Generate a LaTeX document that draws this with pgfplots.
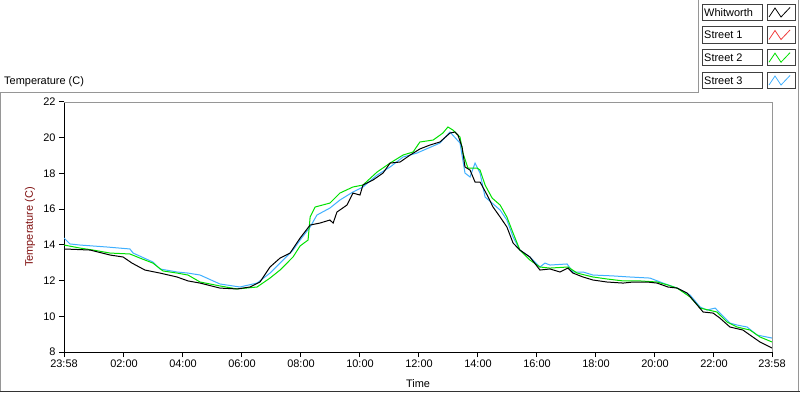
\documentclass[border=0pt]{standalone}
\usepackage{fontspec}
\setmainfont{Liberation Sans}
\usepackage{pgfplots}
\usepackage{pgfplotstable}
\pgfplotsset{compat=1.18}
\definecolor{cyanl}{RGB}{64,176,255}
\definecolor{greenl}{RGB}{0,225,0}
\definecolor{redl}{RGB}{240,60,60}
\definecolor{ylab}{RGB}{128,16,16}
\definecolor{frameg}{RGB}{150,150,150}

\pgfplotstableread{
h T
-0.03 13.77
0.85 13.71
1.53 13.43
1.97 13.32
2.27 12.98
2.71 12.59
3.22 12.42
3.80 12.20
4.17 11.98
4.58 11.86
5.25 11.58
5.83 11.53
6.27 11.64
6.61 11.92
6.95 12.76
7.29 13.26
7.63 13.54
7.97 14.38
8.31 15.11
8.64 15.22
8.98 15.39
9.09 15.22
9.22 15.84
9.56 16.23
9.76 16.90
10.00 16.79
10.10 17.35
10.44 17.63
10.78 18.02
11.02 18.58
11.36 18.64
11.70 19.03
12.03 19.37
12.37 19.59
12.71 19.76
13.05 20.26
13.22 20.32
13.32 20.15
13.46 19.48
13.56 18.36
13.73 18.19
13.90 17.52
14.07 17.52
14.31 16.79
14.51 16.12
14.75 15.56
14.98 15.00
15.19 14.10
15.42 13.71
15.76 13.32
16.10 12.59
16.44 12.65
16.78 12.48
17.05 12.70
17.22 12.42
17.56 12.20
17.90 12.03
18.37 11.92
18.92 11.86
19.26 11.92
19.73 11.92
20.07 11.86
20.44 11.64
20.75 11.58
21.09 11.30
21.29 10.91
21.63 10.24
21.97 10.18
22.20 9.90
22.54 9.40
22.98 9.23
23.22 8.95
23.56 8.56
23.97 8.22
}\whitworth

\pgfplotstableread{
h T
-0.03 13.99
0.51 13.82
0.95 13.71
1.53 13.54
2.20 13.49
2.54 13.26
2.98 12.98
3.32 12.54
3.80 12.42
4.17 12.31
4.58 11.92
5.25 11.70
5.83 11.53
6.51 11.64
6.95 12.14
7.29 12.59
7.73 13.32
7.97 13.94
8.24 14.27
8.31 15.56
8.48 16.12
8.98 16.34
9.32 16.90
9.76 17.24
10.10 17.35
10.58 18.08
11.02 18.58
11.46 19.03
11.80 19.20
12.03 19.76
12.48 19.87
12.81 20.26
12.98 20.60
13.15 20.43
13.39 20.04
13.49 19.14
13.66 18.30
13.97 18.30
14.07 18.19
14.24 17.35
14.48 16.62
14.75 16.23
14.98 15.56
15.19 14.66
15.42 13.71
15.76 13.15
16.10 12.76
16.44 12.70
17.05 12.76
17.36 12.42
17.90 12.20
18.37 12.09
18.92 11.98
19.49 11.98
20.07 11.92
20.44 11.75
20.75 11.58
21.19 11.08
21.53 10.46
22.10 10.24
22.44 9.68
22.78 9.40
23.22 9.23
23.56 8.84
23.97 8.56
}\streettwo

\pgfplotstableread{
h T
-0.03 14.38
0.17 14.05
0.51 13.99
1.42 13.88
2.20 13.77
2.31 13.54
2.98 13.04
3.22 12.65
3.80 12.48
4.17 12.42
4.58 12.31
5.25 11.81
5.93 11.64
6.51 11.86
6.95 12.42
7.29 12.98
7.73 13.71
7.97 14.27
8.31 15.00
8.54 15.67
8.98 16.06
9.32 16.51
9.76 16.96
10.10 17.24
10.58 17.91
11.02 18.36
11.46 18.92
11.93 19.14
12.71 19.70
13.05 20.32
13.39 19.70
13.56 18.02
13.73 17.80
13.90 18.58
14.07 18.02
14.24 16.68
14.75 15.95
14.98 15.39
15.19 14.44
15.42 13.71
15.76 13.32
16.10 12.76
16.27 12.98
16.44 12.87
17.02 12.93
17.22 12.48
17.56 12.48
17.90 12.31
18.58 12.26
19.15 12.20
19.83 12.14
20.27 11.86
20.75 11.58
21.19 11.19
21.53 10.52
21.76 10.35
22.04 10.46
22.20 10.18
22.54 9.62
22.78 9.51
23.12 9.40
23.46 8.95
23.97 8.78
}\streetthree

\begin{document}
\begin{tikzpicture}[x=1bp,y=1bp,font=\fontsize{11}{13}\selectfont]
\useasboundingbox (0,0) rectangle (800,392);
\fill[white] (0,0) rectangle (800,392);
% outer frame
\draw[frameg,line width=1bp] (0.5,1) -- (0.5,299.5) -- (698,299.5) -- (698,392);
\draw[frameg,line width=1bp] (798,392) -- (798,1);
\draw[black!80,line width=1bp] (0,1) -- (800,1);
\node[anchor=west,inner sep=0pt] at (4,310) {Temperature (C)};

\begin{axis}[
  at={(64bp,40bp)}, anchor=south west, scale only axis,
  width=708bp, height=250bp,
  xmin=-0.0333, xmax=23.9667, ymin=8, ymax=22,
  axis x line*=bottom, axis y line*=left,
  axis line style={-,black,line width=1bp},
  xtick={-0.0333,2,4,6,8,10,12,14,16,18,20,22,23.9667},
  xticklabels={23:58,02:00,04:00,06:00,08:00,10:00,12:00,14:00,16:00,18:00,20:00,22:00,23:58},
  ytick={8,10,12,14,16,18,20,22},
  minor x tick num=7,
  tick align=outside,
  major tick length=5bp, minor tick length=3bp,
  every tick/.style={black,line width=1bp},
  /pgf/number format/assume math mode=true,
  xticklabel style={yshift=1bp},
  xlabel={Time},
  xlabel style={at={(axis description cs:0.5,0)},anchor=center,yshift=-32bp},
  ylabel={Temperature (C)},
  ylabel style={at={(axis description cs:-0.048,0.5)},anchor=center,text=ylab},
  clip=true,
]
\addplot[cyanl,line width=1bp] table[x=h,y=T]{\streetthree};
\addplot[greenl,line width=1bp] table[x=h,y=T]{\streettwo};
\addplot[black,line width=1bp] table[x=h,y=T]{\whitworth};
\end{axis}
% top/right plot border
\draw[frameg,line width=1bp] (64,290) -- (772,290) -- (772,40);

% legend
\foreach \yc/\name/\col in {379.5/Whitworth/black, 357/Street 1/redl, 334.3/Street 2/greenl, 311.5/Street 3/cyanl}{
  \draw[black!75,line width=1bp] (702,\yc-8) rectangle (762.5,\yc+8);
  \node[anchor=west,inner sep=0pt] at (704,\yc) {\name};
  \draw[black!75,line width=1bp] (767,\yc-8) rectangle (795,\yc+8);
  \draw[\col,line width=0.8bp] (769,\yc-4.5) -- (775,\yc+4.5) -- (781,\yc-4.5) -- (790,\yc+5);
}
\end{tikzpicture}
\end{document}
